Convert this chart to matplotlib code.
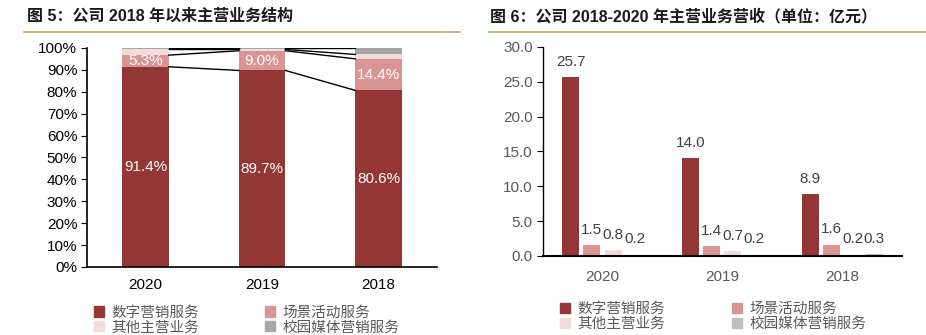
import numpy as np
import matplotlib.pyplot as plt
from matplotlib.lines import Line2D
from matplotlib.patches import Patch

plt.rcParams['font.family'] = ['Liberation Sans', 'Noto Sans CJK SC']

years = ['2020', '2019', '2018']
series = ['数字营销服务', '场景活动服务', '其他主营业务', '校园媒体营销服务']
colors = ['#943634', '#D99594', '#F2DCDB', '#A6A6A6']

# share of revenue (%)
share_digital = [91.4, 89.7, 80.6]
share_scene = [5.3, 9.0, 14.4]
share_other = [2.6, 0.6, 2.0]
share_campus = [0.7, 0.7, 3.0]

# revenue (亿元)
rev_digital = [25.7, 14.0, 8.9]
rev_scene = [1.5, 1.4, 1.6]
rev_other = [0.8, 0.7, 0.2]
rev_campus = [0.2, 0.2, 0.3]

fig = plt.figure(figsize=(9.26, 3.35), dpi=100)

# titles + orange rules
fig.text(0.029, 0.952, '图 5：公司 2018 年以来主营业务结构', fontsize=11.5,
         fontweight='bold', va='center', color='#1a1a1a')
fig.text(0.529, 0.952, '图 6：公司 2018-2020 年主营业务营收（单位：亿元）', fontsize=11.5,
         fontweight='bold', va='center', color='#1a1a1a')
fig.add_artist(Line2D([0.026, 0.497], [0.904, 0.904], color='#D4A25A', lw=1.2))
fig.add_artist(Line2D([0.528, 1.0], [0.904, 0.904], color='#D4A25A', lw=1.2))

# ---- left: stacked percentage chart
ax1 = fig.add_axes([0.094, 0.203, 0.378, 0.654])
x = np.arange(len(years))
w = 0.4
stack = [share_digital, share_scene, share_other, share_campus]
bottom = np.zeros(3)
tops = []
for vals, c in zip(stack, colors):
    ax1.bar(x, vals, w, bottom=bottom, color=c, zorder=2)
    bottom = bottom + np.array(vals)
    tops.append(bottom.copy())

# series connector lines
for t in tops:
    for i in range(len(years) - 1):
        ax1.plot([x[i] + w / 2, x[i + 1] - w / 2], [t[i], t[i + 1]],
                 color='black', lw=1, zorder=3)

for i in range(3):
    ax1.text(x[i], share_digital[i] / 2, f'{share_digital[i]:.1f}%', ha='center',
             va='center', color='white', fontsize=11)
    ax1.text(x[i], share_digital[i] + share_scene[i] / 2, f'{share_scene[i]:.1f}%',
             ha='center', va='center', color='white', fontsize=11)

ax1.set_xlim(-0.5, 2.5)
ax1.set_ylim(0, 100)
ax1.set_yticks(range(0, 101, 10))
ax1.set_yticklabels([f'{v}%' for v in range(0, 101, 10)])
ax1.set_xticks(x)
ax1.set_xticklabels(years)
ax1.tick_params(axis='x', length=0, labelsize=11, pad=8)
ax1.tick_params(axis='y', length=4, labelsize=11, pad=3)
for s in ['top', 'right']:
    ax1.spines[s].set_visible(False)
ax1.spines['left'].set_linewidth(1.2)
ax1.spines['bottom'].set_linewidth(1.2)

# legend filled column-wise: reorder so rows read left to right
order = [0, 2, 1, 3]
handles = [Patch(color=colors[i]) for i in order]
labels = [series[i] for i in order]
fig.legend(handles, labels, ncol=2, loc='upper left', bbox_to_anchor=(0.095, 0.105),
           frameon=False, fontsize=10.5, handlelength=0.7, handleheight=0.7,
           handletextpad=0.5, columnspacing=4.5, labelspacing=0.05,
           labelcolor='#595959', borderaxespad=0)

# ---- right: grouped revenue chart
ax2 = fig.add_axes([0.586, 0.236, 0.388, 0.624])
step = 0.178
bw = 0.142
groups = [rev_digital, rev_scene, rev_other, rev_campus]
bar_colors2 = colors[:3] + ['#BFBFBF']
for k, (vals, c) in enumerate(zip(groups, bar_colors2)):
    xs = x + (k - 1.5) * step
    ax2.bar(xs, vals, bw, color=c, zorder=2)
    for xi, v in zip(xs, vals):
        ax2.text(xi, v + 2.2, f'{v:.1f}', ha='center', va='center', fontsize=11,
                 color='#404040')

ax2.set_xlim(-0.5, 2.5)
ax2.set_ylim(0, 30)
ax2.set_yticks(np.arange(0, 30.1, 5))
ax2.set_yticklabels([f'{v:.1f}' for v in np.arange(0, 30.1, 5)])
ax2.set_xticks(x)
ax2.set_xticklabels(years)
ax2.tick_params(axis='x', length=0, labelsize=11, pad=10, labelcolor='#595959')
ax2.tick_params(axis='y', length=4, labelsize=11, pad=3, labelcolor='#595959')
for s in ['top', 'right']:
    ax2.spines[s].set_visible(False)
ax2.spines['left'].set_linewidth(1.0)
ax2.spines['bottom'].set_linewidth(1.5)

handles2 = [Patch(color=bar_colors2[i]) for i in order]
fig.legend(handles2, labels, ncol=2, loc='upper left', bbox_to_anchor=(0.598, 0.115),
           frameon=False, fontsize=10.5, handlelength=0.7, handleheight=0.7,
           handletextpad=0.5, columnspacing=4.6, labelspacing=0.05,
           labelcolor='#595959', borderaxespad=0)

fig.savefig('out.png', dpi=100)
